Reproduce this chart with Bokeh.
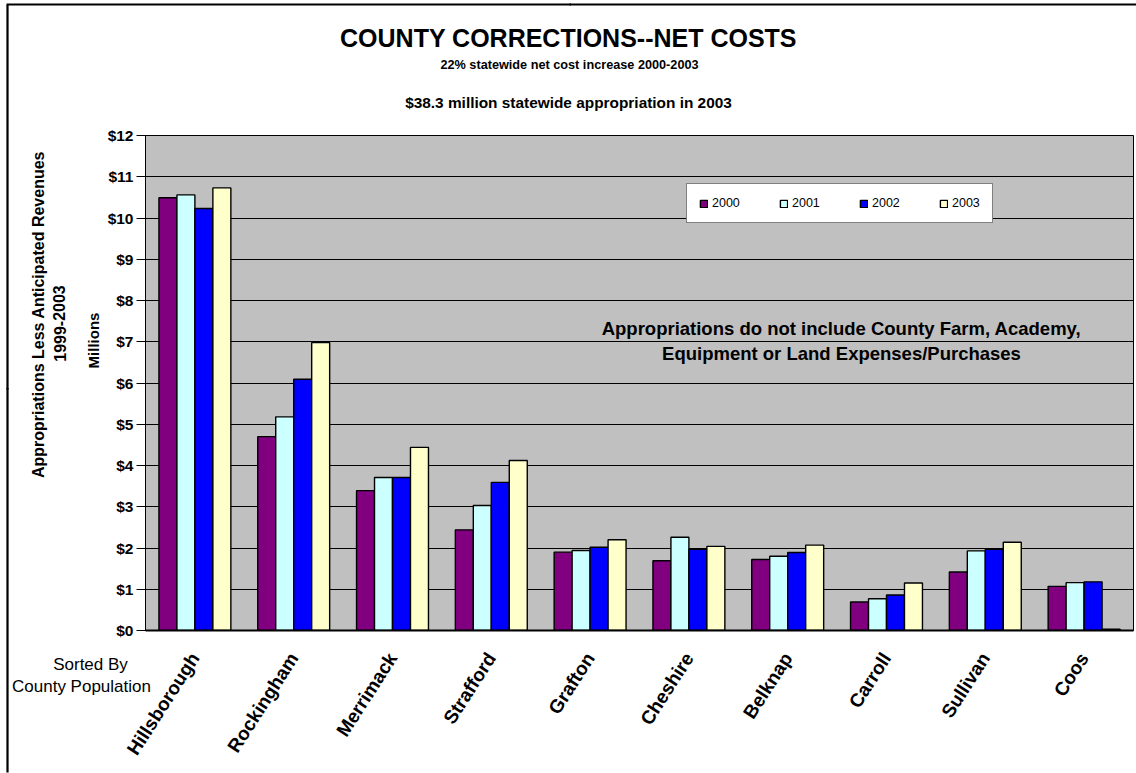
from bokeh.plotting import figure
from bokeh.models import (ColumnDataSource, FactorRange, Range1d, FixedTicker,
                          PrintfTickFormatter, Label, Legend, LegendItem)
from bokeh.transform import dodge
from bokeh.embed import file_html
from bokeh.resources import INLINE

# ---------------- data ----------------
counties = ["Hillsborough", "Rockingham", "Merrimack", "Strafford", "Grafton",
            "Cheshire", "Belknap", "Carroll", "Sullivan", "Coos"]
years = ["2000", "2001", "2002", "2003"]
v2000 = [10.49, 4.70, 3.39, 2.44, 1.90, 1.69, 1.72, 0.69, 1.42, 1.07]
v2001 = [10.56, 5.18, 3.71, 3.03, 1.94, 2.26, 1.80, 0.77, 1.93, 1.16]
v2002 = [10.23, 6.09, 3.71, 3.59, 2.02, 1.97, 1.89, 0.86, 1.97, 1.18]
v2003 = [10.73, 6.98, 4.44, 4.12, 2.20, 2.04, 2.07, 1.15, 2.14, 0.03]
y_ticks = list(range(0, 13))

colors = ["#800080", "#CCFFFF", "#0000FF", "#FFFFCC"]
FONT = "Liberation Sans"

src = ColumnDataSource(dict(county=counties, y2000=v2000, y2001=v2001,
                            y2002=v2002, y2003=v2003))

W, H = 1136, 773
FL, FR, FT, FB = 145, 1133, 135, 630   # frame in page pixels

p = figure(width=W, height=H, x_range=FactorRange(*counties, range_padding=0),
           y_range=Range1d(0, 12), output_backend="svg", toolbar_location=None,
           min_border_left=FL, min_border_right=W - FR,
           min_border_top=FT, min_border_bottom=H - FB)

p.background_fill_color = "#C0C0C0"
p.border_fill_color = "white"
p.outline_line_color = "black"
p.outline_line_width = 1

# bars
bw = 0.182
offs = [-1.5 * bw, -0.5 * bw, 0.5 * bw, 1.5 * bw]
rends = []
for yr, off, c in zip(years, offs, colors):
    r = p.vbar(x=dodge("county", off, range=p.x_range), top="y" + yr, width=bw,
               source=src, fill_color=c, line_color="black", line_width=1.4)
    rends.append(r)

# axes
p.xgrid.visible = False
p.ygrid.grid_line_color = "black"
p.ygrid.grid_line_width = 1
p.yaxis.ticker = FixedTicker(ticks=y_ticks)
p.yaxis.formatter = PrintfTickFormatter(format="$%d")
p.yaxis.major_label_text_font = FONT
p.yaxis.major_label_text_font_style = "bold"
p.yaxis.major_label_text_font_size = "15.5px"
p.yaxis.major_label_text_color = "black"
p.yaxis.major_tick_out = 9
p.yaxis.major_tick_in = 0
p.yaxis.minor_tick_out = 0
p.yaxis.minor_tick_in = 0
p.yaxis.major_label_standoff = 3
p.yaxis.axis_line_color = "black"

p.xaxis.major_label_orientation = 1.0
p.xaxis.major_label_text_font = FONT
p.xaxis.major_label_text_font_style = "bold"
p.xaxis.major_label_text_font_size = "19px"
p.xaxis.major_label_text_color = "black"
p.xaxis.major_tick_out = 0
p.xaxis.major_tick_in = 0
p.xaxis.major_label_standoff = 24
p.xaxis.axis_line_width = 2
p.xaxis.axis_line_color = "black"

# legend
legend = Legend(items=[LegendItem(label=yr, renderers=[r]) for yr, r in zip(years, rends)],
                orientation="horizontal", location=(686 - FL, FB - 223),
                glyph_width=9, glyph_height=9, label_standoff=4, label_width=28,
                spacing=39, padding=12, label_text_font=FONT, label_text_color="black",
                label_text_font_size="12.5px", border_line_color="black",
                border_line_width=1, background_fill_color="white",
                background_fill_alpha=1.0)
p.add_layout(legend, "center")

# helpers to place text by page pixel position (through the plot's own scales)
pitch = (FR - FL) / len(counties)
ppu = (FB - FT) / 12.0
def dx(px):
    return (px - FL) / pitch
def dy(py):
    return (FB - py) / ppu

def lab(text, px, py, size, bold=True, align="center", angle=0.0, place="center"):
    p.add_layout(Label(x=dx(px), y=dy(py), text=text, text_font=FONT,
                       text_font_size=size, text_font_style="bold" if bold else "normal",
                       text_align=align, text_baseline="middle", angle=angle,
                       text_color="black"), place)

lab("COUNTY CORRECTIONS--NET COSTS", 568, 37, "25px", place="above")
lab("22% statewide net cost increase 2000-2003", 569, 64, "12.7px", place="above")
lab("$38.3 million statewide appropriation in 2003", 568, 102, "15.4px", place="above")
lab("Sorted By", 90, 664, "17px", bold=False, place="above")
lab("County Population", 81, 686, "17px", bold=False, place="above")
lab("Appropriations do not include County Farm, Academy,", 841, 328, "18.5px")
lab("Equipment or Land Expenses/Purchases", 841, 353, "18.5px")
lab("Millions", 93, 340, "15px", angle=1.5708, place="left")
lab("Appropriations Less Anticipated Revenues", 38, 314, "16px", angle=1.5708, place="left")
lab("1999-2003", 59, 323, "16px", angle=1.5708, place="left")

# outer border lines of the chart area (top and left), drawn as filled label boxes
def border_piece(px, py, length, angle=0.0):
    p.add_layout(Label(x=dx(px), y=dy(py), text=" ", text_font_size="2px", angle=angle,
                       text_align="left", text_baseline="middle",
                       background_fill_color="black", background_fill_alpha=1.0,
                       padding=dict(left=0, right=length, top=0, bottom=0)), "above")

border_piece(6, 4, 564)
border_piece(569, 4, 566)
border_piece(7, 772, 384, angle=1.5708)
border_piece(7, 389, 384, angle=1.5708)

open("out.html", "w").write(file_html(p, INLINE))
